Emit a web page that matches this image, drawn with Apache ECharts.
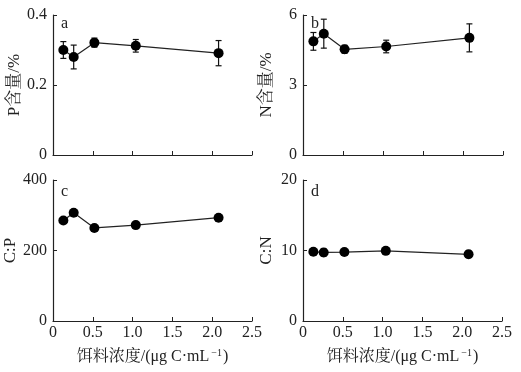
<!DOCTYPE html>
<html><head><meta charset="utf-8">
<script src="https://cdn.jsdelivr.net/npm/echarts@6/dist/echarts.min.js"></script>
<style>html,body{margin:0;padding:0;background:#fff}#c{width:521px;height:372px}</style>
</head><body><div id="c"></div>
<script>
// Data
var concentration = [0.13, 0.26, 0.52, 1.04, 2.08];
var pMean = [0.300, 0.280, 0.321, 0.312, 0.291];
var pErr  = [0.024, 0.034, 0.013, 0.018, 0.036];
var nMean = [4.87, 5.20, 4.53, 4.65, 5.02];
var nErr  = [0.38, 0.62, 0.17, 0.27, 0.60];
var cpMean = [285, 307, 264, 272, 293];
var cpErr  = [8, 8, 6, 6, 6];
var cnMean = [9.83, 9.72, 9.78, 9.95, 9.46];
var cnErr  = [0.2, 0.5, 0.2, 0.2, 0.45];
var xTicks = [0, 0.5, 1.0, 1.5, 2.0, 2.5];
var panelLetters = ['a', 'b', 'c', 'd'];
var yNames = ['P含量/%', 'N含量/%', 'C:P', 'C:N'];
var yMax = [0.4, 6, 400, 20];
var yInterval = [0.2, 3, 200, 10];
var xName = '饵料浓度/(μg C·mL{sup|−1})';

var FONT = "'Liberation Serif','Times New Roman','Noto Serif CJK SC','Noto Sans CJK SC',serif";
var chart = echarts.init(document.getElementById('c'), null, {renderer: 'canvas'});

var grids = [
  {left: 53, top: 15, width: 199, height: 140},
  {left: 303, top: 15, width: 200, height: 140},
  {left: 53, top: 180, width: 199, height: 141},
  {left: 303, top: 180, width: 199, height: 141}
];
var means = [pMean, nMean, cpMean, cnMean];
var errs = [pErr, nErr, cpErr, cnErr];

var xAxes = [], yAxes = [], series = [], graphics = [];
for (var i = 0; i < 4; i++) {
  var bottom = i >= 2;
  xAxes.push({
    gridIndex: i, type: 'value', min: xTicks[0], max: xTicks[xTicks.length - 1], interval: 0.5,
    axisLine: {show: true, onZero: false, lineStyle: {color: '#222', width: 1.2}},
    axisTick: {show: true, inside: true, length: 4, lineStyle: {color: '#222'}},
    axisLabel: {show: bottom, margin: 4, color: '#222', fontFamily: FONT, fontSize: 16,
      formatter: function (v) { return v === 0 ? '0' : v.toFixed(1); }},
    splitLine: {show: false},
    name: bottom ? xName : '', nameLocation: 'middle', nameGap: 27,
    nameTextStyle: {color: '#222', fontFamily: FONT, fontSize: 16,
      rich: {sup: {fontSize: 10, verticalAlign: 'top', padding: [0, 1, 8, 2], fontFamily: FONT, color: '#222'}}}
  });
  yAxes.push({
    gridIndex: i, type: 'value', min: 0, max: yMax[i], interval: yInterval[i],
    axisLine: {show: true, lineStyle: {color: '#222', width: 1.2}},
    axisTick: {show: true, inside: true, length: 4, lineStyle: {color: '#222'}},
    axisLabel: {margin: 6, color: '#222', fontFamily: FONT, fontSize: 16},
    splitLine: {show: false},
    name: yNames[i], nameLocation: 'middle', nameGap: 28,
    nameTextStyle: {color: '#222', fontFamily: FONT, fontSize: 17}
  });
  var lineData = [], errData = [];
  for (var k = 0; k < concentration.length; k++) {
    lineData.push([concentration[k], means[i][k]]);
    errData.push([concentration[k], means[i][k] - errs[i][k], means[i][k] + errs[i][k]]);
  }
  series.push({
    type: 'custom', xAxisIndex: i, yAxisIndex: i, data: errData, z: 3,
    encode: {x: 0, y: [1, 2]},
    renderItem: function (params, api) {
      var x = api.value(0);
      var lo = api.coord([x, api.value(1)]);
      var hi = api.coord([x, api.value(2)]);
      var w = 3;
      var st = {stroke: '#111', lineWidth: 1.2};
      return {type: 'group', children: [
        {type: 'line', shape: {x1: lo[0], y1: lo[1], x2: hi[0], y2: hi[1]}, style: st},
        {type: 'line', shape: {x1: lo[0] - w, y1: lo[1], x2: lo[0] + w, y2: lo[1]}, style: st},
        {type: 'line', shape: {x1: hi[0] - w, y1: hi[1], x2: hi[0] + w, y2: hi[1]}, style: st}
      ]};
    }
  });
  series.push({
    type: 'line', xAxisIndex: i, yAxisIndex: i, data: lineData, z: 4,
    symbol: 'circle', symbolSize: 10, showSymbol: true,
    lineStyle: {color: '#222', width: 1.2},
    itemStyle: {color: '#000'}
  });
  graphics.push({
    type: 'text', left: grids[i].left + 8, top: grids[i].top + (i >= 2 ? 4 : 1),
    style: {text: panelLetters[i], font: '16px ' + FONT, fill: '#222'}
  });
}

chart.setOption({
  animation: false,
  backgroundColor: '#fff',
  grid: grids,
  xAxis: xAxes,
  yAxis: yAxes,
  series: series,
  graphic: graphics
});
</script>
</body></html>
